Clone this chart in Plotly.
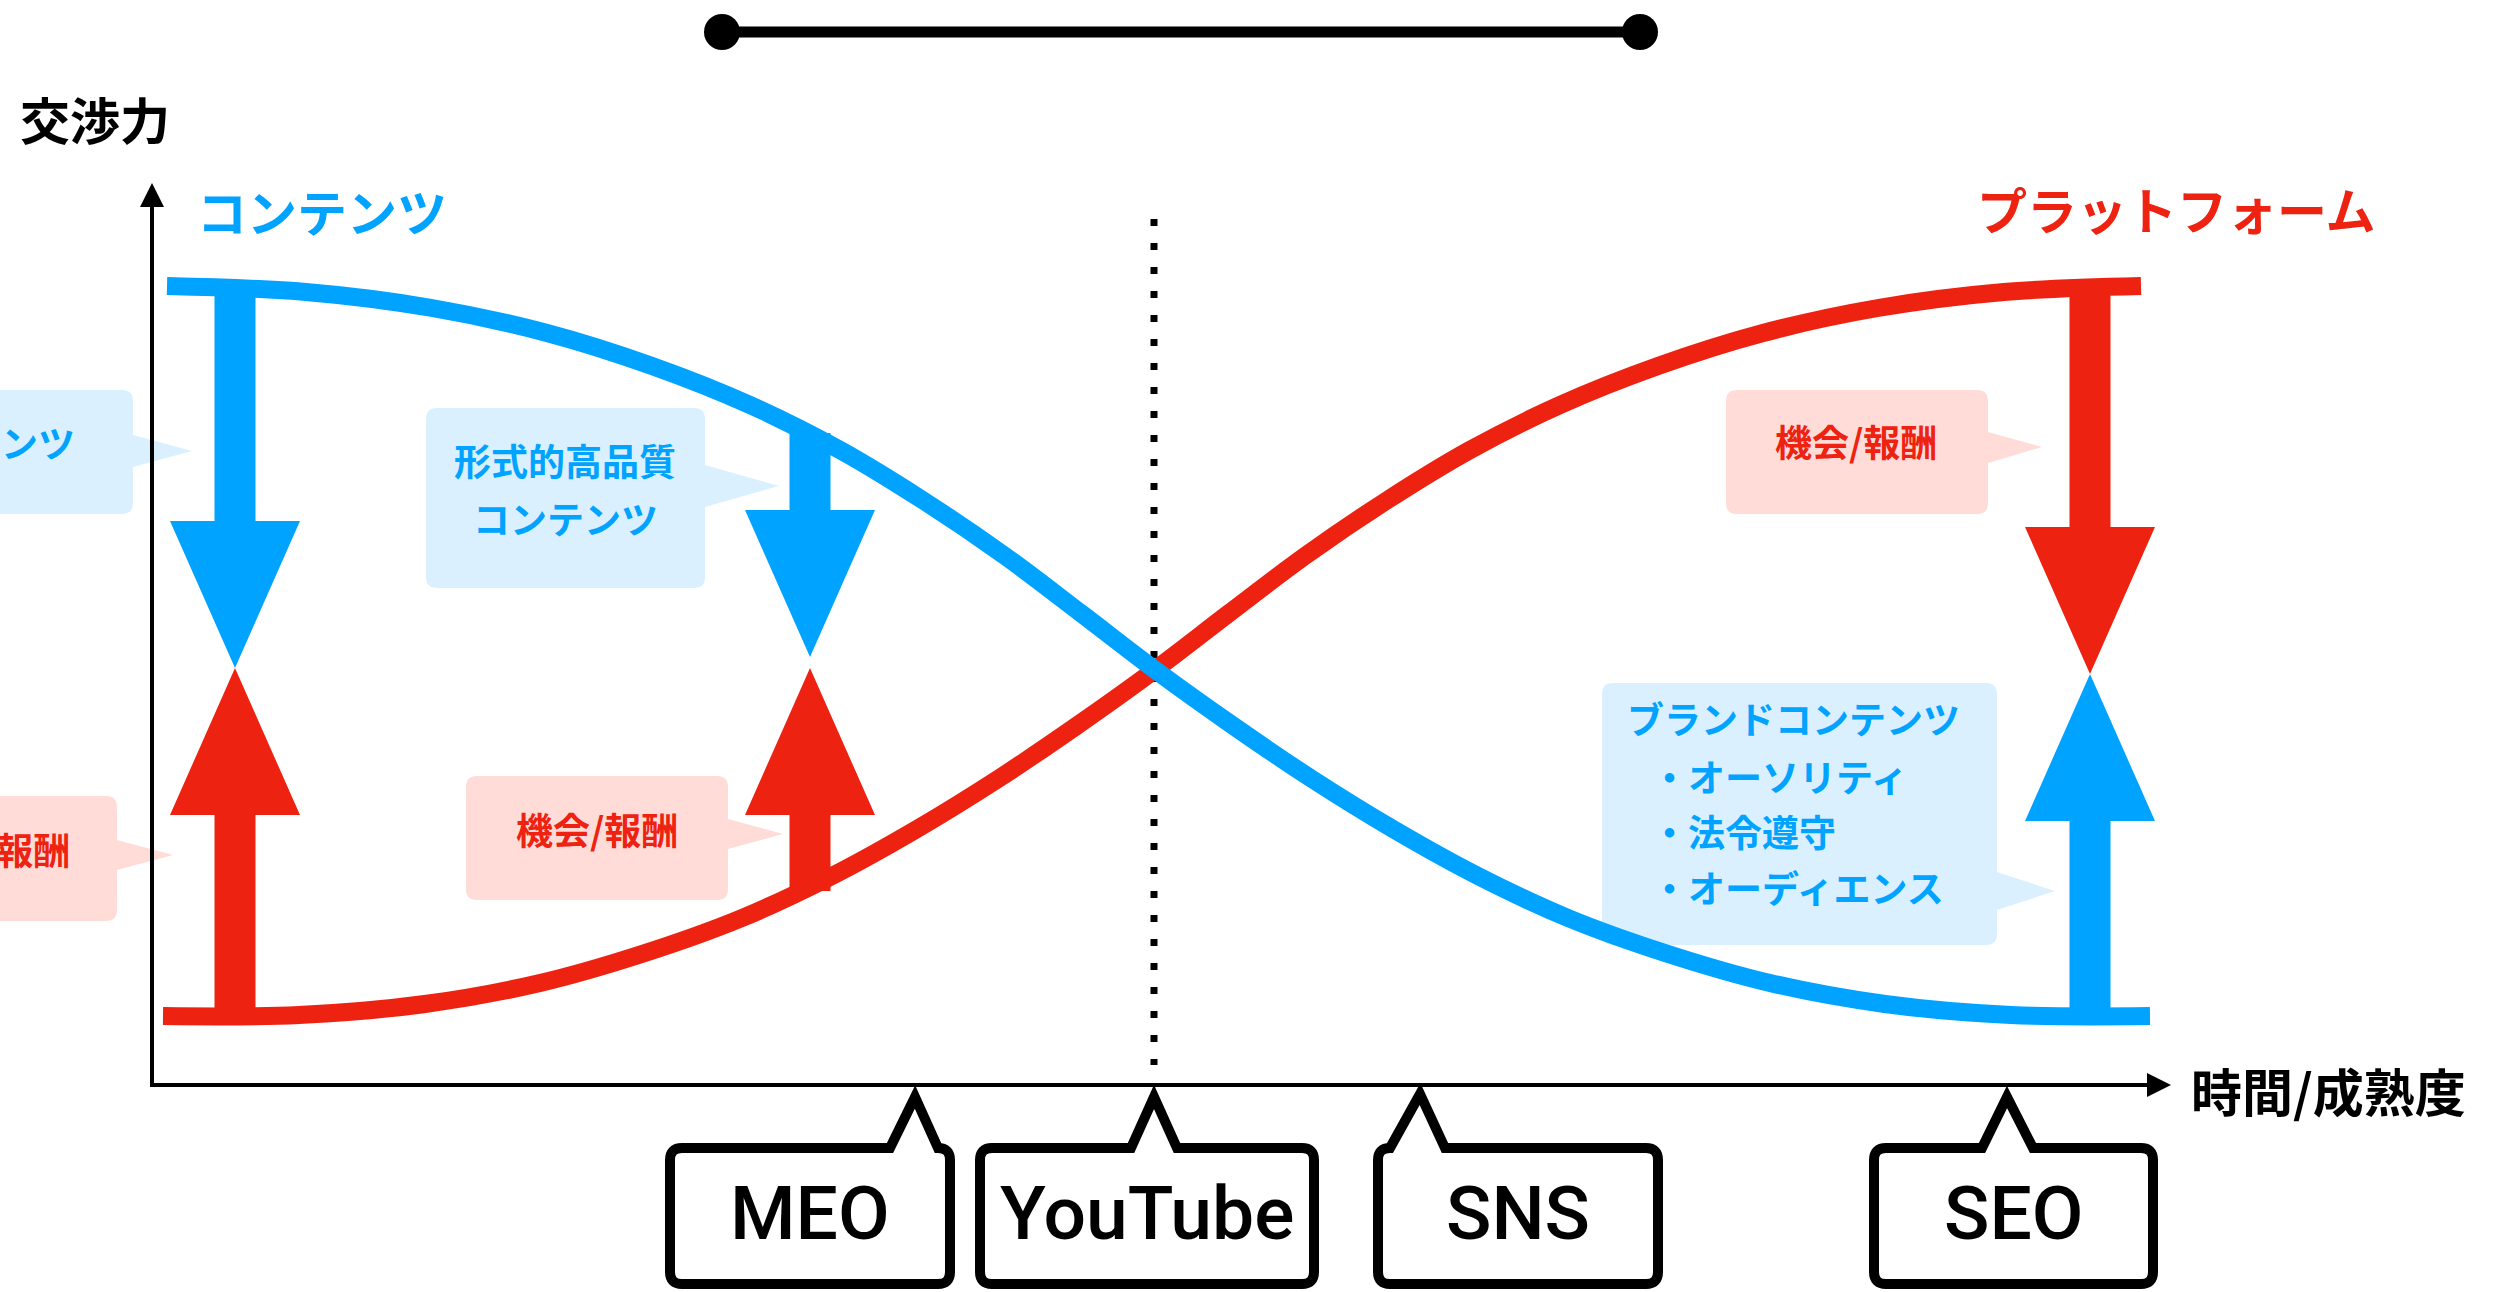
import plotly.graph_objects as go

# ---- data: time / maturity on x, bargaining power on y ----
content_time = [15, 154, 280, 395, 500, 598, 688, 772, 853, 930, 1006, 1083,
                1160, 1241, 1326, 1416, 1513, 1618, 1733, 1859, 1998]
content_power = [799, 793, 777, 752, 719, 680, 635, 584, 529, 471, 413, 358,
                 306, 256, 209, 167, 132, 102, 81, 70, 69]

platform_time = [11, 147, 273, 388, 493, 590, 680, 765, 846, 923, 1000, 1076,
                 1153, 1234, 1318, 1408, 1506, 1611, 1726, 1852, 1989]
platform_power = [69, 70, 81, 102, 132, 167, 209, 256, 306, 358, 413, 471,
                  529, 584, 635, 680, 719, 752, 777, 793, 799]

# pressure arrows: position on the time axis, start level and tip level
arrow_time = [83, 83, 658, 658, 1938, 1938]
arrow_from = [799, 69, 652, 194, 799, 69]
arrow_to = [417, 417, 428, 417, 411, 411]
arrow_side = ["content", "platform", "content", "platform", "platform", "content"]

# media placed along the time axis
media_labels = ["MEO", "YouTube", "SNS", "SEO"]
media_time = [763, 1002, 1268, 1855]

axis_y_title = "交渉力"
axis_x_title = "時間/成熟度"
content_title = "コンテンツ"
platform_title = "プラットフォーム"

# ---- styles ----
BLUE = "#00A3FF"
RED = "#EE2211"
PALE_BLUE = "#DBF0FF"
PALE_RED = "#FFDCD8"
JP = "Noto Sans CJK JP"
LATIN = "Roboto"

fig = go.Figure()

# curves: platform first so content crosses over it
fig.add_trace(go.Scatter(x=platform_time, y=platform_power, mode="lines",
                         line=dict(color=RED, width=18, shape="spline", smoothing=1.0),
                         hoverinfo="skip"))
fig.add_trace(go.Scatter(x=content_time, y=content_power, mode="lines",
                         line=dict(color=BLUE, width=18, shape="spline", smoothing=1.0),
                         hoverinfo="skip"))


def block_arrow(x, y0, yt, shaft=20.5, head=65, head_len=147):
    d = 1 if yt > y0 else -1
    yb = yt - d * head_len
    xs = [x - shaft, x + shaft, x + shaft, x + head, x, x - head, x - shaft, x - shaft]
    ys = [y0, y0, yb, yb, yt, yb, yb, y0]
    return xs, ys


for x, a, b, side in zip(arrow_time, arrow_from, arrow_to, arrow_side):
    col = BLUE if side == "content" else RED
    xs, ys = block_arrow(x, a, b)
    fig.add_trace(go.Scatter(x=xs, y=ys, mode="lines", fill="toself",
                             fillcolor=col, line=dict(color=col, width=0),
                             hoverinfo="skip"))

# bar across the top
fig.add_trace(go.Scatter(x=[570, 1488], y=[1053, 1053], mode="lines+markers",
                         line=dict(color="black", width=11),
                         marker=dict(color="black", size=36),
                         hoverinfo="skip"))


def balloon(left, right, bottom, top, lo, hi, tx, ty, r=11):
    """Rounded box with a pointer on its right side."""
    return (f"M {left + r},{top} L {right - r},{top} Q {right},{top} {right},{top - r} "
            f"L {right},{hi} L {tx},{ty} L {right},{lo} L {right},{bottom + r} "
            f"Q {right},{bottom} {right - r},{bottom} L {left + r},{bottom} "
            f"Q {left},{bottom} {left},{bottom + r} L {left},{top - r} "
            f"Q {left},{top} {left + r},{top} Z")


def callout(left, right, bottom, top, bl, br, tx, ty, r=12):
    """Rounded box with a pointer on its top side."""
    return (f"M {left + r},{top} L {bl},{top} L {tx},{ty} L {br},{top} "
            f"L {right - r},{top} Q {right},{top} {right},{top - r} "
            f"L {right},{bottom + r} Q {right},{bottom} {right - r},{bottom} "
            f"L {left + r},{bottom} Q {left},{bottom} {left},{bottom + r} "
            f"L {left},{top - r} Q {left},{top} {left + r},{top} Z")


shapes = []

# pale speech balloons
balloons = [
    (PALE_BLUE, (-315, -19, 571, 695, 618, 650, 40, 634)),
    (PALE_BLUE, (274, 553, 497, 677, 578, 620, 627, 599)),
    (PALE_RED, (-297, -35, 164, 289, 215, 245, 21, 230)),
    (PALE_RED, (314, 576, 185, 309, 236, 266, 631, 251)),
    (PALE_RED, (1574, 1836, 571, 695, 622, 653, 1890, 638)),
    (PALE_BLUE, (1450, 1845, 140, 402, 175, 213, 1903, 194)),
]
for col, p in balloons:
    shapes.append(dict(type="path", path=balloon(*p), fillcolor=col,
                       line=dict(width=0), layer="below", xref="x", yref="y"))

# dotted line at the crossover
shapes.append(dict(type="line", x0=1002, x1=1002, y0=866, y1=20, xref="x", yref="y",
                   line=dict(color="black", width=7, dash="7px,17px"), layer="below"))

# axes with arrow heads
shapes.append(dict(type="line", x0=0, x1=0, y0=-2, y1=880, xref="x", yref="y",
                   line=dict(color="black", width=4), layer="below"))
shapes.append(dict(type="path", path="M -12,878 L 12,878 L 0,902 Z", xref="x", yref="y",
                   fillcolor="black", line=dict(width=0), layer="below"))
shapes.append(dict(type="line", x0=-2, x1=1997, y0=0, y1=0, xref="x", yref="y",
                   line=dict(color="black", width=4), layer="below"))
shapes.append(dict(type="path", path="M 1995,-12 L 1995,12 L 2019,0 Z", xref="x", yref="y",
                   fillcolor="black", line=dict(width=0), layer="below"))

# media callouts under the time axis
media_boxes = [(518, 798, 738, 786, -12), (828, 1162, 979, 1025, -12),
               (1226, 1506, 1238, 1293, -9), (1722, 2001, 1830, 1881, -12)]
for (left, right, bl, br, ty), t in zip(media_boxes, media_time):
    shapes.append(dict(type="path", path=callout(left, right, -199, -63, bl, br, t, ty),
                       fillcolor="white", line=dict(color="black", width=10),
                       layer="below", xref="x", yref="y"))

annotations = []


def text(x, y, s, size, color, anchor="center", family=JP, weight="bold"):
    annotations.append(dict(x=x, y=y, xref="x", yref="y", text=s, showarrow=False,
                            xanchor=anchor, yanchor="middle",
                            font=dict(family=family, size=size, color=color, weight=weight)))


text(-134, 967, axis_y_title, 50, "black", "left")
text(2037, -5, axis_x_title, 51, "black", "left")
text(43, 875, content_title, 50, BLUE, "left")
text(2226, 877, platform_title, 50, RED, "right")

# balloon texts (the two left balloons run off the page edge)
text(-75, 643, "コンテンツ", 37, BLUE, "right")
text(413, 625, "形式的高品質", 37, BLUE)
text(413, 567, "コンテンツ", 37, BLUE)
text(-80, 236, "機会/報酬", 37, RED, "right")
text(445, 256, "機会/報酬", 37, RED)
text(1704, 644, "機会/報酬", 37, RED)
text(1473, 367, "ブランドコンテンツ", 37, BLUE, "left")
text(1497, 309, "・オーソリティ", 37, BLUE, "left")
text(1497, 254, "・法令遵守", 37, BLUE, "left")
text(1497, 198, "・オーディエンス", 37, BLUE, "left")

# media labels
for (left, right, *_), lab in zip(media_boxes, media_labels):
    text((left + right) / 2, -128, lab, 75, "black", family=LATIN, weight=500)

fig.update_layout(
    width=2498, height=1292,
    margin=dict(l=0, r=0, t=0, b=0, pad=0),
    paper_bgcolor="white", plot_bgcolor="white",
    showlegend=False,
    xaxis=dict(range=[-152, 2346], visible=False, fixedrange=True),
    yaxis=dict(range=[-207, 1085], visible=False, fixedrange=True),
    shapes=shapes,
    annotations=annotations,
)

fig.write_html("out.html", config={"displayModeBar": False})
